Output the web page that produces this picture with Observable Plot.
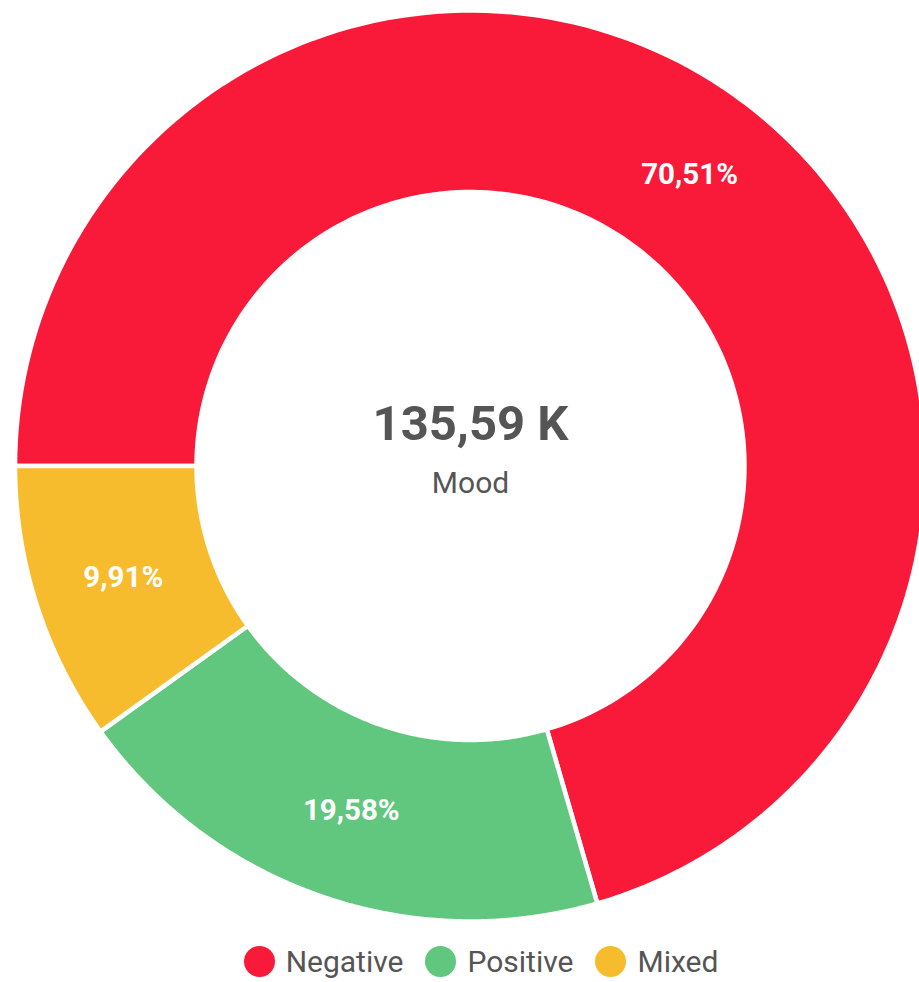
<!DOCTYPE html>
<html><head><meta charset="utf-8">
<script src="https://cdn.jsdelivr.net/npm/d3@7"></script>
<script src="https://cdn.jsdelivr.net/npm/@observablehq/plot@0.6"></script>
<style>
body{margin:0;background:#fff;font-family:Roboto,"Noto Sans",sans-serif;width:919px;height:982px;position:relative;overflow:hidden}
#chart svg{display:block}
#legend{position:absolute;left:0;top:941px;width:919px;height:40px;box-sizing:border-box;padding-left:43px;display:flex;justify-content:center;align-items:center;color:#555;font-size:30px}
#legend .item{display:flex;align-items:center;margin:0 11px}
#legend .sw{width:31px;height:31px;border-radius:50%;margin-right:11px}
</style></head><body>
<div id="chart"></div>
<div id="legend"></div>
<script>
const categories = ["Negative", "Positive", "Mixed"];
const shares = [70.51, 19.58, 9.91];
const colors = ["#F91A3A", "#61C67E", "#F7BC2E"];
const totalLabel = "135,59 K";
const centerTitle = "Mood";

const startAngle = 270;        // degrees clockwise from 12 o'clock
const innerRatio = 0.6015;
const steps = 160;

const total = d3.sum(shares);
let acc = 0;
const slices = categories.map((c, i) => {
  const a0 = startAngle + acc / total * 360;
  acc += shares[i];
  const a1 = startAngle + acc / total * 360;
  return {cat: c, share: shares[i], a0, a1};
});

const rad = d => d * Math.PI / 180;
const pts = [];
for (const s of slices) {
  const ring = [];
  for (let k = 0; k <= steps; k++) {
    const a = rad(s.a0 + (s.a1 - s.a0) * k / steps);
    ring.push({cat: s.cat, x: Math.sin(a), y: Math.cos(a)});
  }
  for (let k = steps; k >= 0; k--) {
    const a = rad(s.a0 + (s.a1 - s.a0) * k / steps);
    ring.push({cat: s.cat, x: innerRatio * Math.sin(a), y: innerRatio * Math.cos(a)});
  }
  ring.push(ring[0]);
  pts.push(...ring);
}

const mid = (1 + innerRatio) / 2;
const labels = slices.map(s => {
  const a = rad((s.a0 + s.a1) / 2);
  return {cat: s.cat, x: mid * Math.sin(a), y: mid * Math.cos(a),
          text: d3.format(".2f")(s.share).replace(".", ",") + "%"};
});

const chart = Plot.plot({
  width: 919,
  height: 935,
  margin: 0,
  x: {domain: [-1, 1], range: [14.5, 925.5], axis: null},
  y: {domain: [-1, 1], range: [921, 10], axis: null},
  color: {domain: categories, range: colors},
  style: {fontFamily: "Roboto, sans-serif", background: "white", overflow: "visible"},
  marks: [
    Plot.line(pts, {x: "x", y: "y", z: "cat", fill: "cat", stroke: "white", strokeWidth: 4.5, curve: "linear"}),
    Plot.text(labels, {x: "x", y: "y", text: "text", fill: "white", fontSize: 29.5, fontWeight: "bold", lineAnchor: "middle"}),
    Plot.text([totalLabel], {x: () => 0, y: () => 0, text: d => d, dy: -42, fill: "#555", fontSize: 49, fontWeight: "bold", lineAnchor: "middle"}),
    Plot.text([centerTitle], {x: () => 0, y: () => 0, text: d => d, dy: 17, fill: "#555", fontSize: 30, lineAnchor: "middle"})
  ]
});
document.getElementById("chart").append(chart);

const leg = d3.select("#legend");
categories.forEach((c, i) => {
  const it = leg.append("div").attr("class", "item");
  it.append("div").attr("class", "sw").style("background", colors[i]);
  it.append("span").text(c);
});
</script>
</body></html>
